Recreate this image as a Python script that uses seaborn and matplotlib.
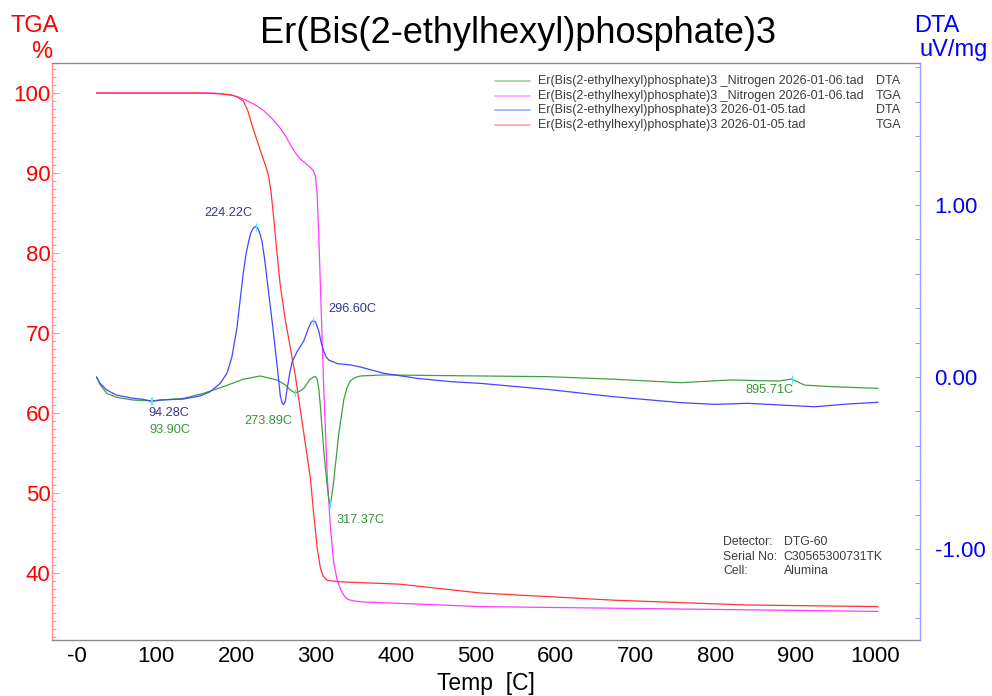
import matplotlib
matplotlib.use("Agg")
import matplotlib.pyplot as plt
from matplotlib.ticker import MultipleLocator
from matplotlib.lines import Line2D
import seaborn as sns

sns.set_style("white")
plt.rcParams["font.family"] = ["Liberation Sans", "DejaVu Sans"]

sample = "Er(Bis(2-ethylhexyl)phosphate)3"
run_names = [
    "Er(Bis(2-ethylhexyl)phosphate)3 _Nitrogen 2026-01-06.tad",
    "Er(Bis(2-ethylhexyl)phosphate)3 _Nitrogen 2026-01-06.tad",
    "Er(Bis(2-ethylhexyl)phosphate)3 2026-01-05.tad",
    "Er(Bis(2-ethylhexyl)phosphate)3 2026-01-05.tad",
]
run_kinds = ["DTA", "TGA", "DTA", "TGA"]

# TGA, run of 2026-01-05 (mass %)
tga_air_temp = [25, 150, 180, 196, 203, 209, 214.5, 219.8, 226, 232.3, 236.5, 240.7, 244,
                247, 251, 255.3, 261.6, 267.9, 274, 280.4, 286.7, 293, 297, 301.4, 305.5,
                309, 313.9, 320, 330.6, 405, 506, 673, 840, 1004]
tga_air_mass = [100.0, 100.0, 99.9, 99.7, 99.4, 99.0, 97.8, 96.0, 94.1, 92.2, 91.0, 89.6,
                87.3, 84.4, 80.1, 75.9, 71.6, 68.1, 64.7, 60.4, 56.1, 51.8, 47.5, 43.2,
                40.6, 39.6, 39.1, 39.0, 38.9, 38.6, 37.5, 36.6, 36.0, 35.8]

# TGA, nitrogen run of 2026-01-06 (mass %)
tga_n2_temp = [25, 171, 192, 203, 213.5, 224, 234.4, 245, 255.3, 262, 268, 274, 280.4, 287,
               293, 296.5, 299.2, 301.4, 303.5, 305.5, 309.7, 314, 318, 322, 326, 330.6,
               335, 339, 345, 355.7, 506, 1004]
tga_n2_mass = [100.0, 100.0, 99.8, 99.5, 99.05, 98.5, 97.8, 96.8, 95.6, 94.6, 93.5, 92.5,
               91.75, 91.2, 90.7, 90.3, 89.6, 87.4, 82.0, 75.9, 63.0, 52.2, 45.7, 41.5,
               39.3, 38.0, 37.2, 36.75, 36.55, 36.4, 35.8, 35.2]

# DTA, run of 2026-01-05 (uV/mg)
dta_air_temp = [25, 29.5, 38, 50, 71, 84, 94.28, 105, 134, 155, 167.5, 180, 188.5, 194.7,
                201, 205, 209, 212.5, 215.6, 218.5, 221.5, 224.22, 227, 230, 232.3, 235.5,
                238.6, 244.9, 251.2, 255.3, 257.5, 259.5, 261.5, 263.7, 267, 270, 276.3,
                284.6, 290.8, 293.8, 296.60, 299.5, 303.4, 306.5, 309.7, 313, 316, 326.5,
                343, 355.7, 384.6, 427, 468.6, 506, 590, 673.5, 757, 799, 841, 882.7,
                924.5, 966, 1004]
dta_air_sig = [0.000, -0.037, -0.076, -0.105, -0.124, -0.130, -0.142, -0.134, -0.128,
               -0.110, -0.085, -0.037, 0.022, 0.118, 0.288, 0.450, 0.608, 0.720, 0.788,
               0.840, 0.866, 0.875, 0.866, 0.830, 0.788, 0.690, 0.568, 0.328, 0.070,
               -0.110, -0.150, -0.161, -0.140, -0.072, 0.020, 0.088, 0.148, 0.209, 0.288,
               0.318, 0.328, 0.318, 0.268, 0.200, 0.148, 0.115, 0.099, 0.078, 0.070,
               0.058, 0.022, -0.008, -0.027, -0.037, -0.072, -0.115, -0.149, -0.159,
               -0.153, -0.163, -0.173, -0.157, -0.147]

# DTA, nitrogen run of 2026-01-06 (uV/mg)
dta_n2_temp = [25, 30, 38, 50, 71, 93.90, 134, 159, 184, 209, 230, 251, 262, 268, 273.89,
               280, 284.6, 292, 296, 299, 301.4, 303.5, 305.5, 309.7, 314, 315.8, 317.37,
               319, 322, 328.5, 334.8, 339, 343, 349, 355.7, 384.6, 506, 590, 673.5, 757,
               820, 862, 880, 895.71, 912, 945, 1004]
dta_n2_sig = [0.000, -0.047, -0.095, -0.118, -0.134, -0.138, -0.124, -0.095, -0.056,
              -0.013, 0.006, -0.017, -0.047, -0.076, -0.093, -0.081, -0.066, -0.017,
              -0.002, 0.004, -0.012, -0.070, -0.172, -0.430, -0.631, -0.705, -0.738,
              -0.715, -0.610, -0.331, -0.131, -0.060, -0.022, -0.003, 0.006, 0.012, 0.006,
              0.002, -0.013, -0.033, -0.017, -0.022, -0.023, -0.012, -0.047, -0.056,
              -0.066]

# Picked peak temperatures on each DTA curve
air_peaks = [224.22, 296.60, 94.28]
n2_peaks = [93.90, 273.89, 317.37, 895.71]

xticks = [0, 100, 200, 300, 400, 500, 600, 700, 800, 900, 1000]
xtick_labels = ["-0", "100", "200", "300", "400", "500", "600", "700", "800", "900", "1000"]
tga_ticks = [40, 50, 60, 70, 80, 90, 100]
dta_ticks = [-1.0, 0.0, 1.0]
dta_tick_labels = ["-1.00", "0.00", "1.00"]

C_RED = "#ff3535"
C_MAG = "#ff3cff"
C_BLUE = "#4545ff"
C_GREEN = "#40a040"
T_NAVY = "#36368f"
T_GREEN = "#35963a"

W, H = 992, 696
fig = plt.figure(figsize=(W / 100, H / 100), dpi=100)
ax = fig.add_axes([52 / W, 1 - 640 / H, 868 / W, 577 / H])
ax2 = ax.twinx()

lw = 0.9
sns.lineplot(x=tga_n2_temp, y=tga_n2_mass, ax=ax, color=C_MAG, lw=lw, sort=False, estimator=None)
sns.lineplot(x=tga_air_temp, y=tga_air_mass, ax=ax, color=C_RED, lw=lw, sort=False, estimator=None)
sns.lineplot(x=dta_n2_temp, y=dta_n2_sig, ax=ax2, color=C_GREEN, lw=lw, sort=False, estimator=None)
sns.lineplot(x=dta_air_temp, y=dta_air_sig, ax=ax2, color=C_BLUE, lw=lw, sort=False, estimator=None)

ax.set_xlim(-30.7, 1056.5)
ax.set_ylim(31.625, 103.75)
ax2.set_ylim(-1.529, 1.8256)

# Peak markers and their temperature labels
def mark(temps, sigs, t, color, dx, dy, ha):
    v = sigs[temps.index(t)]
    ax2.plot([t], [v], marker="|", ms=6, mew=0.9, color="#55e8ff", zorder=5)
    ax2.annotate(f"{t:.2f}C", (t, v), xytext=(dx, dy), textcoords="offset pixels",
                 ha=ha, va="center", fontsize=9.2, color=color)

mark(dta_air_temp, dta_air_sig, air_peaks[0], T_NAVY, -3, 13.5, "right")
mark(dta_air_temp, dta_air_sig, air_peaks[1], T_NAVY, 15, 11.5, "left")
mark(dta_air_temp, dta_air_sig, air_peaks[2], T_NAVY, -3, -11.5, "left")
mark(dta_n2_temp, dta_n2_sig, n2_peaks[0], T_GREEN, -2.5, -29.5, "left")
mark(dta_n2_temp, dta_n2_sig, n2_peaks[1], T_GREEN, -3, -28, "right")
mark(dta_n2_temp, dta_n2_sig, n2_peaks[2], T_GREEN, 7, -16, "left")
mark(dta_n2_temp, dta_n2_sig, n2_peaks[3], T_GREEN, 2, -11, "right")

# Axes styling
for s in ("top", "bottom"):
    ax.spines[s].set_color("#8a8a8a")
ax.spines["left"].set_color("#ff9090")
ax.spines["right"].set_visible(False)
ax2.spines["left"].set_visible(False)
ax2.spines["top"].set_visible(False)
ax2.spines["bottom"].set_visible(False)
ax2.spines["right"].set_color("#9a9aff")
for sp in list(ax.spines.values()) + list(ax2.spines.values()):
    sp.set_linewidth(1.0)

ax.set_xticks(xticks, labels=xtick_labels)
ax.xaxis.set_minor_locator(MultipleLocator(10))
ax.set_yticks(tga_ticks, labels=[str(v) for v in tga_ticks])
ax.yaxis.set_minor_locator(MultipleLocator(1))
ax2.set_yticks(dta_ticks, labels=dta_tick_labels)
ax2.yaxis.set_minor_locator(MultipleLocator(0.2))

ax.tick_params(axis="x", which="both", direction="in", color="#8a8a8a", labelcolor="black",
               labelsize=16, pad=4.5, top=False)
ax.tick_params(axis="x", which="major", length=5, width=0.8)
ax.tick_params(axis="x", which="minor", length=3, width=0.8)
ax.tick_params(axis="y", which="both", direction="in", color="#ff9090", labelcolor="#ff0000",
               labelsize=16, pad=1.2, right=False)
ax.tick_params(axis="y", which="major", length=5, width=0.8)
ax.tick_params(axis="y", which="minor", length=3, width=0.8)
ax2.tick_params(axis="y", which="both", direction="in", color="#9a9aff", labelcolor="#0000ff",
                labelsize=16, pad=10.5, left=False)
ax2.tick_params(axis="y", which="major", length=3.5, width=0.8)
ax2.tick_params(axis="y", which="minor", length=3.5, width=0.8)
ax.set_xlabel("")
ax.set_ylabel("")
ax2.set_ylabel("")
ax.grid(False)
ax2.grid(False)

# Titles and axis captions
fig.text(518 / W, 1 - 43 / H, sample, ha="center", va="baseline", fontsize=26, color="black")
fig.text(35 / W, 1 - 32 / H, "TGA", ha="center", va="baseline", fontsize=17, color="#ff0000")
fig.text(42 / W, 1 - 58 / H, "%", ha="center", va="baseline", fontsize=17, color="#ff0000")
fig.text(936.5 / W, 1 - 32 / H, "DTA", ha="center", va="baseline", fontsize=17, color="#0000ff")
fig.text(953.5 / W, 1 - 56 / H, "uV/mg", ha="center", va="baseline", fontsize=17, color="#0000ff")
fig.text(486 / W, 1 - 690 / H, "Temp  [C]", ha="center", va="baseline", fontsize=16.5, color="black")

# Run legend
leg_colors = ["#8fcc8f", "#ff9cff", "#9c9cff", "#ff9c9c"]
row_y = [0.9688, 0.9428, 0.9185, 0.8925]
for name, kind, c, y in zip(run_names, run_kinds, leg_colors, row_y):
    ax2.add_line(Line2D([0.5104, 0.5507], [y, y], transform=ax2.transAxes, color=c, lw=1.1))
    ax2.text(0.5599, y, name, transform=ax2.transAxes, ha="left", va="center",
             fontsize=9, color="#3c3c3c")
    ax2.text(0.9493, y, kind, transform=ax2.transAxes, ha="left", va="center",
             fontsize=9, color="#3c3c3c")

# Instrument information
info = [("Detector:", "DTG-60"), ("Serial No:", "C30565300731TK"), ("Cell:", "Alumina")]
for (k, v), y in zip(info, [0.170, 0.144, 0.1196]):
    ax2.text(0.773, y, k, transform=ax2.transAxes, ha="left", va="center", fontsize=8.8, color="#3c3c3c")
    ax2.text(0.843, y, v, transform=ax2.transAxes, ha="left", va="center", fontsize=8.8, color="#3c3c3c")

fig.savefig("out.png", dpi=100)
